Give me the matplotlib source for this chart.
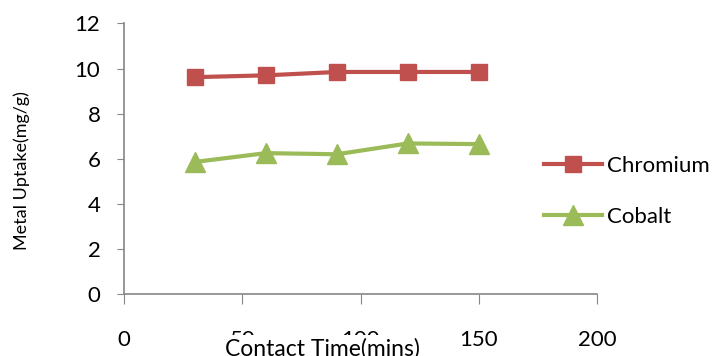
import matplotlib.pyplot as plt

# tempo de contato (min) e captação de metal (mg/g)
tempo = [30, 60, 90, 120, 150]
cromo = [9.62, 9.70, 9.85, 9.85, 9.85]
cobalto = [5.86, 6.25, 6.20, 6.68, 6.65]

x_ticks = [0, 50, 100, 150, 200]
y_ticks = [0, 2, 4, 6, 8, 10, 12]

plt.rcParams['font.family'] = ['Lato', 'DejaVu Sans']

fig = plt.figure(figsize=(7.14, 3.56), dpi=100)
ax = fig.add_axes([0.1737, 0.174, 0.6625, 0.76])

ax.plot(tempo, cromo, color='#C0504D', lw=3, marker='s', ms=12, label='Chromium')
ax.plot(tempo, cobalto, color='#9BBB59', lw=3, marker='^', ms=14, label='Cobalt')

ax.set_xlim(0, 200)
ax.set_ylim(0, 12)
ax.set_xticks(x_ticks)
ax.set_yticks(y_ticks)

for lado in ['top', 'right']:
    ax.spines[lado].set_visible(False)
for lado in ['left', 'bottom']:
    ax.spines[lado].set_color('#868686')
    ax.spines[lado].set_linewidth(1.2)

ax.tick_params(axis='x', direction='out', length=7, color='#868686', pad=19, labelsize=16)
ax.tick_params(axis='y', direction='out', length=5, color='#868686', pad=12, labelsize=16)

# rótulo do eixo x com fundo branco por cima dos números
fig.text(0.452, 0.05, 'Contact Time(mins)', ha='center', va='top', fontsize=16.5,
         bbox=dict(facecolor='white', edgecolor='none', pad=2))
fig.text(0.031, 0.52, 'Metal Uptake(mg/g)', rotation=90, ha='center', va='center', fontsize=13)

ax.legend(loc='center left', bbox_to_anchor=(0.87, 0.38), frameon=False, fontsize=16,
          handlelength=2.6, handletextpad=0.2, labelspacing=1.4, borderaxespad=0)

fig.savefig('out.png', dpi=100)
